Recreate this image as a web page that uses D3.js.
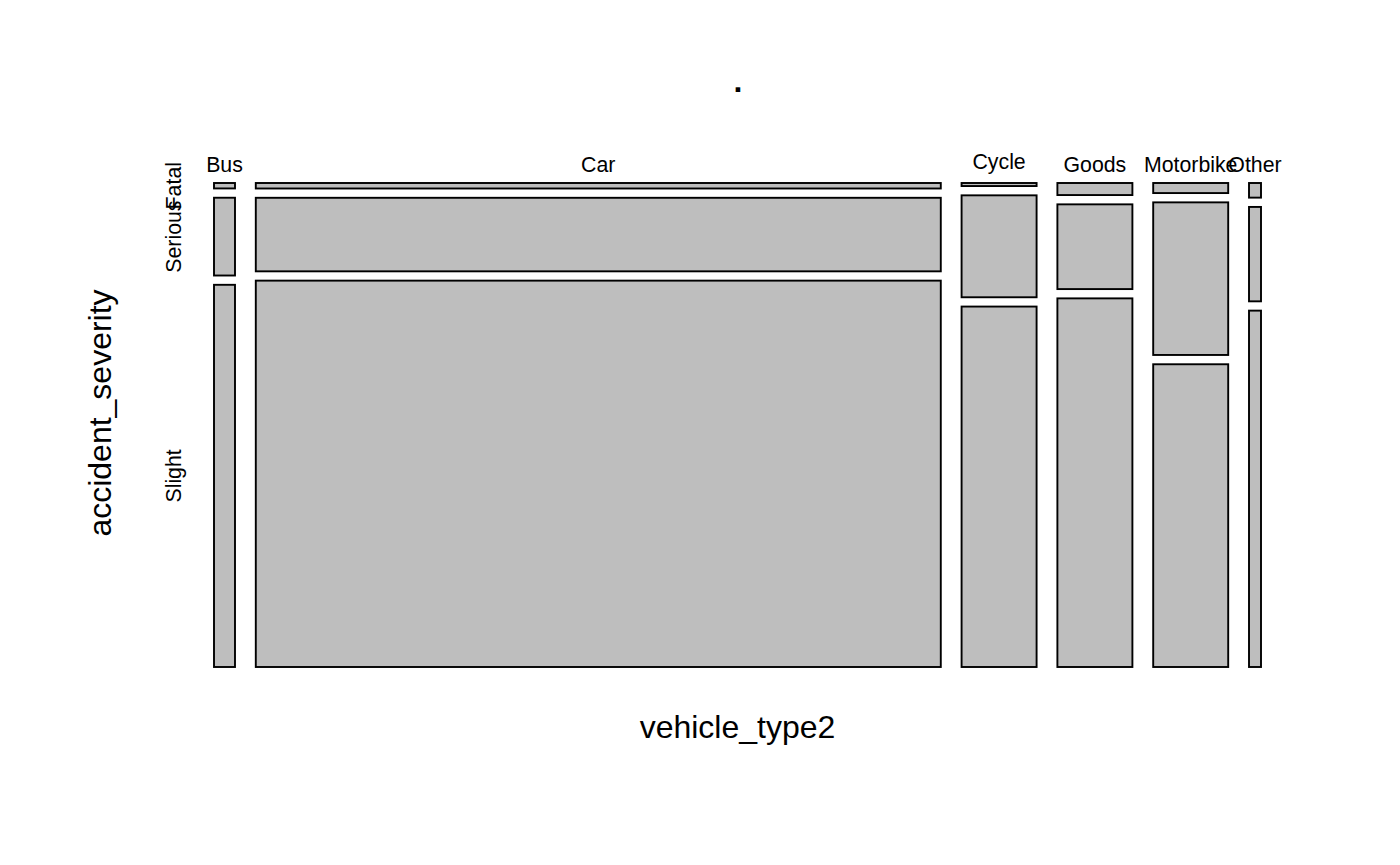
<!DOCTYPE html>
<html><head><meta charset="utf-8">
<script src="https://cdn.jsdelivr.net/npm/d3@7"></script>
<style>body{margin:0;background:#fff}svg{display:block}text{font-family:"Liberation Sans",Arial,sans-serif;fill:#000}</style>
</head><body>
<svg id="c" width="1400" height="865"></svg>
<script>
// Data (estimated counts)
const vehicleTypes = ["Bus", "Car", "Cycle", "Goods", "Motorbike", "Other"];
const severities = ["Fatal", "Serious", "Slight"];
const fatal   = [13,  429,  26,  103,  86,  20];
const serious = [186, 5739, 871, 724, 1304, 129];
const slight  = [914, 30152, 3080, 3150, 2587, 487];
const title = ".";
const xLabel = "vehicle_type2";
const yLabel = "accident_severity";

(function () {
const series = [fatal, serious, slight];
const svg = d3.select("#c");

const pLeft = 214, pRight = 1261, pTop = 183, pBottom = 667;
const gapX = 20.8, gapY = 9.3;

const colTotals = vehicleTypes.map((v, j) => d3.sum(series, s => s[j]));
const grand = d3.sum(colTotals);
const xs = d3.scaleLinear().domain([0, grand]).range([0, (pRight - pLeft) - gapX * (vehicleTypes.length - 1)]);
const ys = d3.scaleLinear().domain([0, 1]).range([0, (pBottom - pTop) - gapY * (severities.length - 1)]);

let cum = 0;
const cols = vehicleTypes.map((v, j) => {
  const x0 = pLeft + xs(cum) + j * gapX;
  const w = xs(colTotals[j]);
  cum += colTotals[j];
  let c2 = 0;
  const cells = severities.map((s, i) => {
    const p = series[i][j] / colTotals[j];
    const y0 = pTop + ys(c2) + i * gapY;
    const h = ys(p);
    c2 += p;
    return {s, y0, h};
  });
  return {v, x0, w, cells};
});

const g = svg.append("g");
cols.forEach(c => {
  g.selectAll(null).data(c.cells).enter().append("rect")
    .attr("x", c.x0).attr("y", d => d.y0)
    .attr("width", c.w).attr("height", d => d.h)
    .attr("fill", "#bebebe").attr("stroke", "#000").attr("stroke-width", 1.9);
  svg.append("text").attr("x", c.x0 + c.w / 2)
    .attr("y", /[gjpqy]/.test(c.v) ? 169.3 : 171.7)
    .attr("text-anchor", "middle").attr("font-size", 21.3).text(c.v);
});

// row labels from first column
cols[0].cells.forEach(d => {
  const cy = d.y0 + d.h / 2;
  svg.append("text").attr("transform", `translate(181,${cy}) rotate(-90)`)
    .attr("text-anchor", "middle").attr("font-size", 21.3).text(d.s);
});

svg.append("text").attr("x", (pLeft + pRight) / 2 + 0.5).attr("y", 91.5)
  .attr("text-anchor", "middle").attr("font-size", 32).attr("font-weight", "bold").text(title);
svg.append("text").attr("x", (pLeft + pRight) / 2).attr("y", 738)
  .attr("text-anchor", "middle").attr("font-size", 32).text(xLabel);
svg.append("text").attr("transform", `translate(111,413) rotate(-90)`)
  .attr("text-anchor", "middle").attr("font-size", 32).text(yLabel);
})();
</script>
</body></html>
